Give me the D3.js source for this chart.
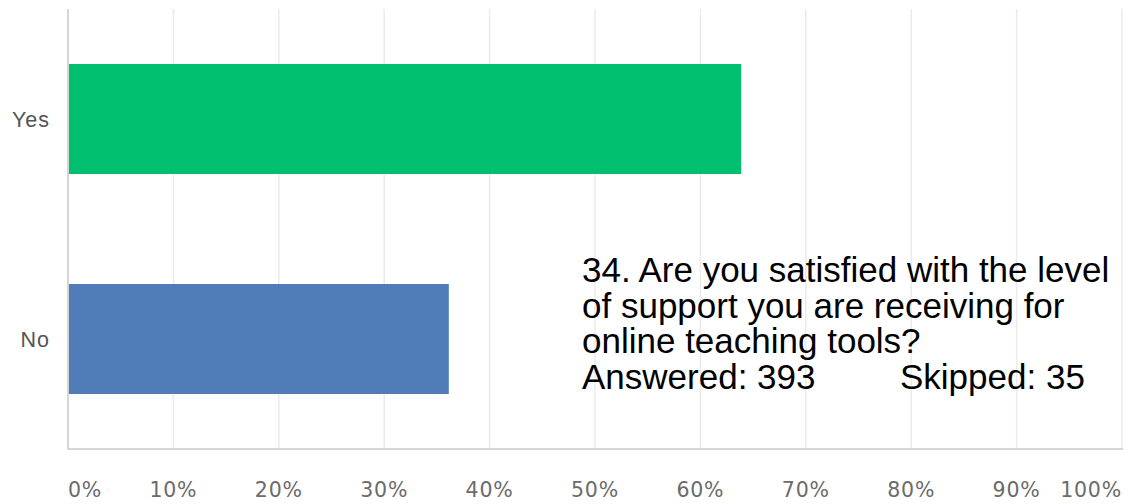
<!DOCTYPE html>
<html>
<head>
<meta charset="utf-8">
<script src="https://cdn.jsdelivr.net/npm/d3@7"></script>
<style>
  html, body { margin: 0; padding: 0; background: #fff; }
  svg { display: block; }
</style>
</head>
<body>
<svg id="chart" width="1130" height="504"></svg>
<script>
// Survey responses (percent of answered)
const categories = ["Yes", "No"];
const percents = [63.87, 36.13];
const barColors = ["#00bf6f", "#507cb7"];
const tickValues = [0, 10, 20, 30, 40, 50, 60, 70, 80, 90, 100];
const tickLabels = ["0%", "10%", "20%", "30%", "40%", "50%", "60%", "70%", "80%", "90%", "100%"];
const titleLines = [
  "34. Are you satisfied with the level",
  "of support you are receiving for",
  "online teaching tools?"
];
const answered = 393;
const skipped = 35;

const svg = d3.select("#chart");
const margin = { left: 68, right: 8, top: 9, bottom: 55 };
const W = 1130, H = 504;

const x = d3.scaleLinear().domain([0, 100]).range([margin.left, W - margin.right]);
const y = d3.scaleBand().domain(categories).range([margin.top, H - margin.bottom])
  .paddingInner(0.5).paddingOuter(0.25);

// vertical gridlines
svg.append("g").selectAll("line")
  .data(tickValues.slice(1))
  .join("line")
  .attr("x1", d => x(d)).attr("x2", d => x(d))
  .attr("y1", margin.top).attr("y2", H - margin.bottom)
  .attr("stroke", "#ebebeb").attr("stroke-width", 1.5);

// bars
svg.append("g").selectAll("rect")
  .data(categories)
  .join("rect")
  .attr("x", x(0))
  .attr("y", d => y(d))
  .attr("width", (d, i) => x(percents[i]) - x(0))
  .attr("height", y.bandwidth())
  .attr("fill", (d, i) => barColors[i]);

// left axis line
svg.append("line")
  .attr("x1", x(0)).attr("x2", x(0))
  .attr("y1", margin.top).attr("y2", H - margin.bottom)
  .attr("stroke", "#d6d6d6").attr("stroke-width", 2);

// bottom axis line
svg.append("line")
  .attr("x1", x(0) - 1).attr("x2", x(100) + 1)
  .attr("y1", H - margin.bottom).attr("y2", H - margin.bottom)
  .attr("stroke", "#d6d6d6").attr("stroke-width", 2);

// x tick labels
svg.append("g").selectAll("text")
  .data(tickValues)
  .join("text")
  .attr("x", d => x(d))
  .attr("y", 497)
  .attr("text-anchor", (d, i) => i === 0 ? "start" : (i === tickValues.length - 1 ? "end" : "middle"))
  .attr("font-family", "'DejaVu Sans', sans-serif")
  .attr("font-size", 20.5)
  .attr("letter-spacing", 0.8)
  .attr("fill", "#6b6b6b")
  .text((d, i) => tickLabels[i]);

// category labels
svg.append("g").selectAll("text")
  .data(categories)
  .join("text")
  .attr("x", 50)
  .attr("y", d => y(d) + y.bandwidth() / 2)
  .attr("dy", "0.36em")
  .attr("text-anchor", "end")
  .attr("font-family", "'Liberation Sans', Arial, sans-serif")
  .attr("font-size", 21.5)
  .attr("letter-spacing", 1)
  .attr("fill", "#555")
  .text(d => d);

// question text block
const qx = 582, qy = 282, lh = 35.5;
const q = svg.append("g")
  .attr("font-family", "'Liberation Sans', Arial, sans-serif")
  .attr("font-size", 35)
  .attr("fill", "#000");
titleLines.forEach((t, i) => {
  q.append("text").attr("x", qx).attr("y", qy + i * lh).text(t);
});
q.append("text").attr("x", qx).attr("y", qy + 3 * lh).text("Answered: " + answered);
q.append("text").attr("x", 900).attr("y", qy + 3 * lh).text("Skipped: " + skipped);
</script>
</body>
</html>
